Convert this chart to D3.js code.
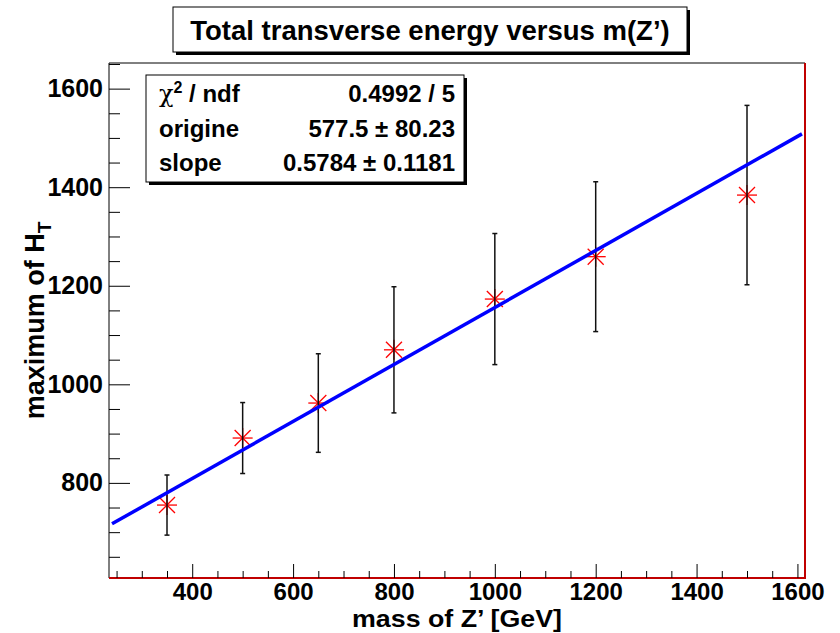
<!DOCTYPE html>
<html>
<head>
<meta charset="utf-8">
<script src="https://cdn.jsdelivr.net/npm/d3@7"></script>
<style>
  body { margin: 0; background: #fff; }
  text { font-family: "Liberation Sans", Arial, sans-serif; font-weight: bold; fill: #000; }
</style>
</head>
<body>
<div id="chart"></div>
<script>
// data
const masses = [350, 500, 650, 800, 1000, 1200, 1500];
const htMax = [755, 891, 962, 1070, 1173, 1259, 1384];
const htErr = [61, 72, 100, 128, 133, 152, 182];

// linear fit result (origine + slope * m)
const fitOrigine = 577.5;
const fitSlope = 0.5784;

const xTicks = [400, 600, 800, 1000, 1200, 1400, 1600];
const yTicks = [800, 1000, 1200, 1400, 1600];

const statsLabels = ["χ2 / ndf", "origine", "slope"];
const statsValues = ["0.4992 / 5", "577.5 ± 80.23", "0.5784 ± 0.1181"];

const W = 840, H = 633;
const frame = { left: 109, top: 63, right: 805, bottom: 578 };

const svg = d3.select("#chart").append("svg")
    .attr("width", W)
    .attr("height", H);

svg.append("rect").attr("width", W).attr("height", H).attr("fill", "#fff");

const x = d3.scaleLinear().domain([235, 1615]).range([frame.left, frame.right]);
const y = d3.scaleLinear().domain([607, 1652]).range([frame.bottom, frame.top]);

// minor ticks every 50
const xMinor = d3.range(250, 1615, 50).filter(v => v % 200 !== 0);
const yMinor = d3.range(650, 1652, 50).filter(v => v % 200 !== 0);

// frame: black left/top, dark red right/bottom
svg.append("line").attr("x1", frame.left).attr("y1", frame.top).attr("x2", frame.right).attr("y2", frame.top)
    .attr("stroke", "#000").attr("stroke-width", 1);
svg.append("line").attr("x1", frame.left).attr("y1", frame.top).attr("x2", frame.left).attr("y2", frame.bottom)
    .attr("stroke", "#000").attr("stroke-width", 1);
svg.append("line").attr("x1", frame.right).attr("y1", frame.top).attr("x2", frame.right).attr("y2", frame.bottom + 1)
    .attr("stroke", "#c00000").attr("stroke-width", 2);
svg.append("line").attr("x1", frame.left).attr("y1", frame.bottom).attr("x2", frame.right + 1).attr("y2", frame.bottom)
    .attr("stroke", "#c00000").attr("stroke-width", 2);

// x axis
svg.append("g")
    .attr("class", "x axis")
    .attr("transform", "translate(0," + frame.bottom + ")")
    .call(d3.axisBottom(x).tickValues(xTicks).tickSize(-14).tickPadding(5).tickFormat(d3.format("d")));
svg.append("g")
    .attr("transform", "translate(0," + frame.bottom + ")")
    .call(d3.axisBottom(x).tickValues(xMinor).tickSize(-7).tickFormat(""));

// y axis
svg.append("g")
    .attr("class", "y axis")
    .attr("transform", "translate(" + frame.left + ",0)")
    .call(d3.axisLeft(y).tickValues(yTicks).tickSize(-21).tickPadding(6).tickFormat(d3.format("d")));
svg.append("g")
    .attr("transform", "translate(" + frame.left + ",0)")
    .call(d3.axisLeft(y).tickValues(yMinor).tickSize(-11).tickFormat(""));

svg.selectAll(".domain").remove();
svg.selectAll(".tick line").attr("stroke", "#000").attr("stroke-width", 1);
svg.selectAll(".tick text")
    .style("font-family", "'Liberation Sans', Arial, sans-serif")
    .style("font-weight", "bold")
    .style("font-size", "25px")
    .attr("fill", "#000");
svg.selectAll(".x.axis .tick text").style("font-size", "24px");

// axis titles
svg.append("text")
    .attr("x", (frame.left + frame.right) / 2)
    .attr("y", 627)
    .attr("text-anchor", "middle")
    .attr("textLength", 210)
    .attr("lengthAdjust", "spacingAndGlyphs")
    .style("font-size", "24px")
    .text("mass of Z’ [GeV]");

const yTitle = svg.append("text")
    .attr("transform", "translate(44," + ((frame.top + frame.bottom) / 2) + ") rotate(-90)")
    .attr("text-anchor", "middle")
    .style("font-size", "27px");
yTitle.append("tspan").text("maximum of H");
yTitle.append("tspan").attr("dy", 7).style("font-size", "19px").text("T");

// markers (red asterisks)
const pts = masses.map((m, i) => ({ m: m, v: htMax[i], e: htErr[i] }));
const star = svg.append("g").attr("stroke", "#ff0000").attr("stroke-width", 1.3);
pts.forEach(d => {
    const cx = x(d.m), cy = y(d.v);
    star.append("line").attr("x1", cx - 10).attr("y1", cy).attr("x2", cx + 10).attr("y2", cy);
    star.append("line").attr("x1", cx).attr("y1", cy - 10).attr("x2", cx).attr("y2", cy + 10);
    star.append("line").attr("x1", cx - 8).attr("y1", cy - 8).attr("x2", cx + 8).attr("y2", cy + 8);
    star.append("line").attr("x1", cx - 8).attr("y1", cy + 8).attr("x2", cx + 8).attr("y2", cy - 8);
});

// error bars
const bars = svg.append("g").attr("stroke", "#111").attr("stroke-width", 1.5);
pts.forEach(d => {
    const cx = x(d.m);
    bars.append("line").attr("x1", cx).attr("y1", y(d.v - d.e)).attr("x2", cx).attr("y2", y(d.v + d.e));
    bars.append("line").attr("x1", cx - 2.5).attr("y1", y(d.v - d.e)).attr("x2", cx + 2.5).attr("y2", y(d.v - d.e));
    bars.append("line").attr("x1", cx - 2.5).attr("y1", y(d.v + d.e)).attr("x2", cx + 2.5).attr("y2", y(d.v + d.e));
});

// fit line
const fitLine = d3.line().x(m => x(m)).y(m => y(fitOrigine + fitSlope * m));
svg.append("path")
    .datum([x.domain()[0] + 6, x.domain()[1] - 6])
    .attr("d", fitLine)
    .attr("fill", "none")
    .attr("stroke", "#0000ff")
    .attr("stroke-width", 3.5);

// stats box
const sb = { x: 146, y: 75, w: 318, h: 107 };
svg.append("rect").attr("x", sb.x + 3).attr("y", sb.y + 3).attr("width", sb.w).attr("height", sb.h).attr("fill", "#000");
svg.append("rect").attr("x", sb.x).attr("y", sb.y).attr("width", sb.w).attr("height", sb.h)
    .attr("fill", "#fff").attr("stroke", "#000").attr("stroke-width", 1);

statsLabels.forEach((lab, i) => {
    const by = 102 + i * 34.5;
    const t = svg.append("text").attr("x", 159).attr("y", by).style("font-size", "24px");
    if (lab.startsWith("χ2")) {
        t.append("tspan").style("font-weight", "normal").style("font-family", "'DejaVu Serif', serif").text("χ");
        t.append("tspan").attr("dy", -9).style("font-size", "16px").text("2");
        t.append("tspan").attr("dy", 9).text(lab.slice(2));
    } else {
        t.text(lab);
    }
    svg.append("text").attr("x", 455).attr("y", by).attr("text-anchor", "end")
        .style("font-size", "24px").text(statsValues[i]);
});

// title box
const tb = { x: 173, y: 7, w: 514, h: 45 };
svg.append("rect").attr("x", tb.x + 3).attr("y", tb.y + 3).attr("width", tb.w).attr("height", tb.h).attr("fill", "#000");
svg.append("rect").attr("x", tb.x).attr("y", tb.y).attr("width", tb.w).attr("height", tb.h)
    .attr("fill", "#fff").attr("stroke", "#000").attr("stroke-width", 1);
svg.append("text")
    .attr("x", tb.x + tb.w / 2)
    .attr("y", 40)
    .attr("text-anchor", "middle")
    .style("font-size", "27.5px")
    .text("Total transverse energy versus m(Z’)");
</script>
</body>
</html>
